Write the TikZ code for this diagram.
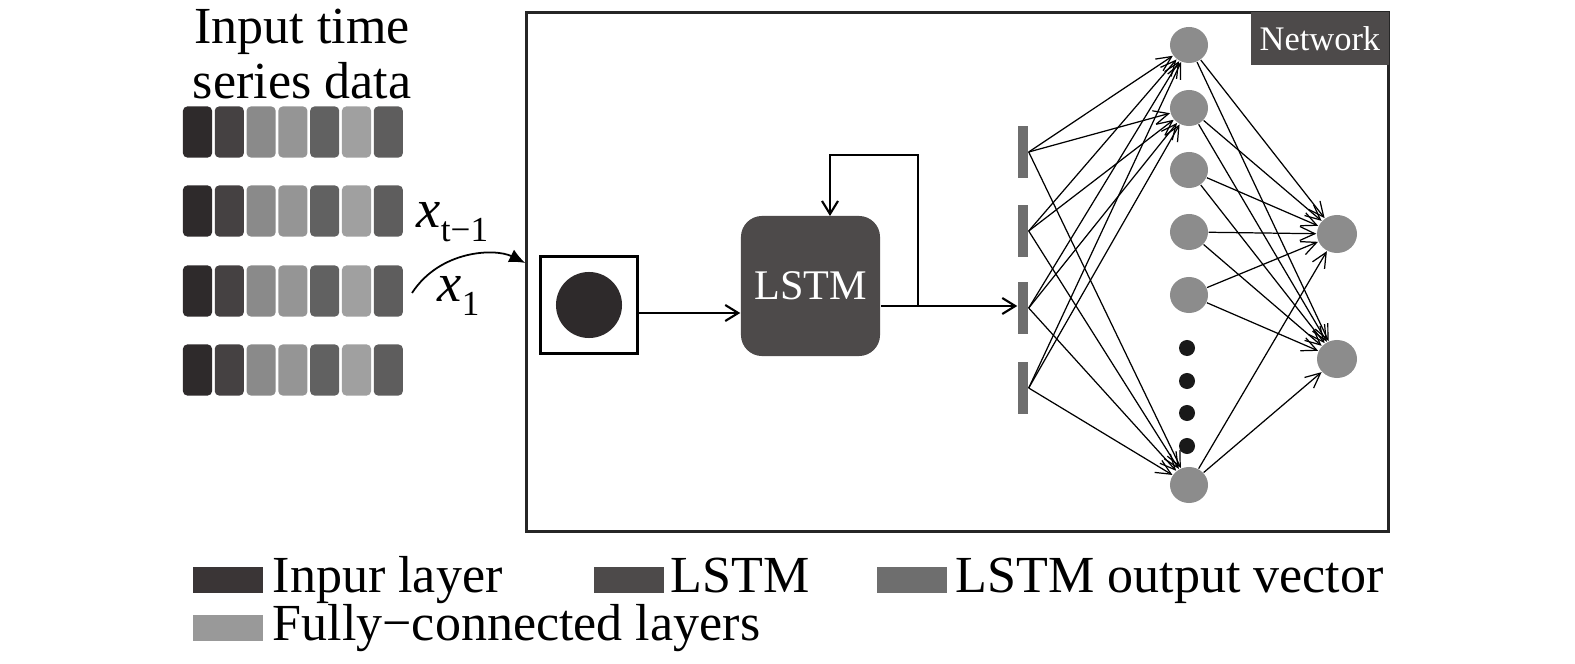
\documentclass[tikz,border=0pt]{standalone}
\usepackage{fontspec}
\setmainfont{Liberation Serif}
\usepackage{xcolor}
\usepackage{tikz}
\usetikzlibrary{positioning,shapes.geometric,arrows.meta,calc}
\definecolor{inkA}{HTML}{2E2A2B}
\definecolor{inkB}{HTML}{454142}
\definecolor{inkC}{HTML}{8A8A8A}
\definecolor{inkD}{HTML}{959595}
\definecolor{inkE}{HTML}{616161}
\definecolor{inkF}{HTML}{A0A0A0}
\definecolor{inkG}{HTML}{5E5D5D}
\definecolor{lstmfill}{HTML}{4D4A4A}
\definecolor{vecfill}{HTML}{6E6E6E}
\definecolor{fcfill}{HTML}{8C8C8C}
\definecolor{fclegend}{HTML}{999999}
\definecolor{inlegend}{HTML}{3A3536}
\newcommand{\seqlabel}[1]{\textit{x}\raisebox{-0.55ex}{\fontsize{10}{10}\selectfont #1}}
\tikzset{
  txt/.style    = {font=\fontsize{14.8}{15.4}\selectfont, inner sep=0pt},
  cell/.style   = {rectangle, rounded corners=1.2pt, minimum width=0.29cm,
                   minimum height=0.51cm, inner sep=0pt},
  frame/.style  = {draw=black!85, line width=0.8pt, minimum width=8.61cm,
                   minimum height=5.18cm, inner sep=0pt},
  tag/.style    = {fill=lstmfill, text=white, font=\fontsize{9.8}{11}\selectfont,
                   minimum width=1.38cm, minimum height=0.53cm, inner sep=0pt},
  lstmbox/.style= {fill=lstmfill, rounded corners=6pt, text=white,
                   font=\fontsize{12}{13}\selectfont, minimum width=1.39cm,
                   minimum height=1.40cm, inner sep=0pt},
  inbox/.style  = {draw, line width=0.6pt, minimum size=0.97cm, inner sep=0pt},
  dot/.style    = {circle, fill=inkA, minimum size=0.66cm, inner sep=0pt},
  bar/.style    = {fill=vecfill, minimum width=0.10cm, minimum height=0.51cm, inner sep=0pt},
  unit/.style   = {ellipse, fill=fcfill, minimum width=0.38cm, minimum height=0.36cm, inner sep=0pt},
  outunit/.style= {ellipse, fill=fcfill, minimum width=0.40cm, minimum height=0.38cm, inner sep=0pt},
  gap/.style    = {circle, fill=black!90, minimum size=0.16cm, inner sep=0pt},
  key/.style    = {minimum width=0.70cm, minimum height=0.25cm, inner sep=0pt},
  flow/.style   = {-{Straight Barb[length=1.3mm,width=1.6mm]}, line width=0.6pt},
  link/.style   = {-{Straight Barb[length=1.5mm,width=1.4mm]}, line width=0.35pt},
}

\begin{document}
\begin{tikzpicture}[x=0.01cm,y=-0.01cm]
    \useasboundingbox (0,0) rectangle (1575,664);
    % Input sequence
    \node[txt, align=center] (title) at (302,54) {Input time\\series data};
    \foreach \r/\yy in {1/132,2/211,3/291,4/370}{
      \foreach \c/\col in {1/inkA,2/inkB,3/inkC,4/inkD,5/inkE,6/inkF,7/inkG}{
        \node[cell, fill=\col] (c\r\c) at ({197.5+31.8*(\c-1)},\yy) {};
      }
    }
    \node[txt, anchor=base west, font=\fontsize{15.5}{15.5}\selectfont] (xprev) at (416,228) {\seqlabel{t−1}};
    \node[txt, anchor=base west, font=\fontsize{15.5}{15.5}\selectfont] (xone) at (437,302) {\seqlabel{1}};
    \coordinate (feedin) at (412,293);

    % Network frame
    \node[frame] (net) at (957.5,272) {};
    \node[tag, anchor=north east] (nettag) at (net.north east) {Network};
    \coordinate (netin) at (net.west |- 0,263);
    \draw[line width=0.5pt, -{Latex[length=1.6mm,width=1.4mm]}] (feedin) .. controls (440,250) and (495,248) .. (netin);

    % Input layer and LSTM
    \node[inbox] (inp) at (589,305) {};
    \node[dot] (inpdot) at (inp.center) {};
    \node[lstmbox] (lstm) at (810.5,286) {LSTM};
    \coordinate (split) at (918,306);
    \draw[flow] (inp.east |- 0,313) -- (lstm.west |- 0,313);
    \draw[line width=0.6pt] (lstm.east |- split) -- (split);
    \draw[flow] (split) -- ++(0,-151) -| (830,216);

    % LSTM output vector
    \foreach \i/\yy in {1/152,2/231,3/308,4/388}{
      \node[bar] (v\i) at (1023,\yy) {};
    }
    \draw[flow] (split) -- (v3.west |- split);

    % Fully-connected layers
    \foreach \i/\yy in {1/45,2/108,3/170,4/232,5/295,6/485}{
      \node[unit] (h\i) at (1189,\yy) {};
    }
    \foreach \i/\yy in {1/348,2/381,3/413,4/446}{
      \node[gap] (g\i) at (1187,\yy) {};
    }
    \node[outunit] (y1) at (1337,234) {};
    \node[outunit] (y2) at (1337,359) {};

    \foreach \i in {1,...,4}{
      \foreach \j in {1,2,6}{
        \draw[link] (v\i.east) -- (h\j);
      }
    }
    \foreach \j in {1,...,6}{
      \draw[link] (h\j) -- (y1);
      \draw[link] (h\j) -- (y2);
    }

    % Legend
    \node[key, fill=inlegend] (k1) at (228,580) {};
    \node[txt, anchor=base west] (t1) at (272,592) {Inpur layer};
    \node[key, fill=lstmfill] (k2) at (629,580) {};
    \node[txt, anchor=base west] (t2) at (670,592) {LSTM};
    \node[key, fill=vecfill] (k3) at (912,580) {};
    \node[txt, anchor=base west] (t3) at (955,592) {LSTM output vector};
    \node[key, fill=fclegend] (k4) at (228,628) {};
    \node[txt, anchor=base west] (t4) at (272,640) {Fully−connected layers};
  \end{tikzpicture}
\end{document}
